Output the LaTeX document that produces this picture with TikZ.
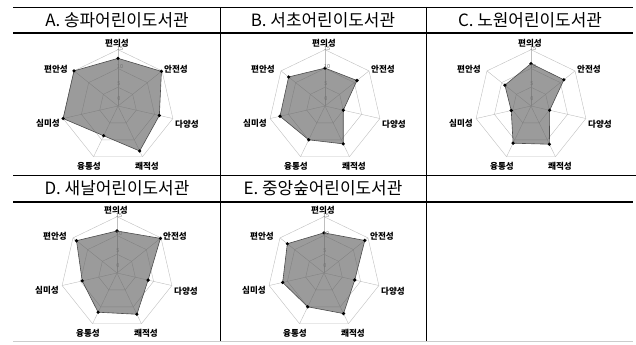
\documentclass[tikz,border=0pt]{standalone}
\usepackage{fontspec}
\setmainfont{Noto Sans CJK KR}
\usetikzlibrary{calc}
\tikzstyle{grid} = [draw=black!25, line width=0.4bp]
\tikzstyle{area} = [draw=black!70, line width=0.6bp, fill=black!65, fill opacity=0.6]
\tikzstyle{axislabel} = [font=\bfseries\fontsize{8.6}{9}\selectfont, inner sep=0pt]
\tikzstyle{ticklabel} = [font=\fontsize{5.5}{6}\selectfont, text=black!55, inner sep=0pt]
\tikzstyle{title} = [font=\fontsize{17}{19}\selectfont, inner sep=0pt]
\tikzstyle{rule} = [draw=black, line width=0.8bp]
\tikzstyle{thickrule} = [draw=black, line width=2bp]
\def\ru{3.7533}
% #1 centre, #2 name, #3-#9 values
\newcommand{\radarchart}[9]{%
	\begin{scope}[shift={#1}]
		% set up grid
		\foreach \r in {18.77,37.53,56.3} {
			\draw [grid] (90:\r) -- (90-360/7:\r) -- (90-2*360/7:\r) -- (90-3*360/7:\r)
				-- (90-4*360/7:\r) -- (90-5*360/7:\r) -- (90-6*360/7:\r) -- cycle;
		}
		\foreach \k in {0,...,6} \draw [grid] (0,0) -- (90-\k*360/7:56.3);
		% set up data
		\draw [area] (90:{#3*\ru}) -- (90-360/7:{#4*\ru}) -- (90-2*360/7:{#5*\ru})
			-- (90-3*360/7:{#6*\ru}) -- (90-4*360/7:{#7*\ru}) -- (90-5*360/7:{#8*\ru})
			-- (90-6*360/7:{#9*\ru}) -- cycle;
		\foreach \v [count=\k from 0] in {#3,#4,#5,#6,#7,#8,#9}
			\fill (90-\k*360/7:{\v*\ru}) circle (1.8);
		% set up scale
		\node (#2-15) [ticklabel] at (2,57) {15};
		\node (#2-10) [ticklabel] at (2,39) {10};
		\node (#2-5) [ticklabel] at (1,22) {5};
		\node (#2-0) [ticklabel] at (1,7) {0};
		% set up axis labels
		\node (#2-a) [axislabel] at (-1,63) {편의성};
		\node (#2-b) [axislabel] at (58,37) {안전성};
		\node (#2-c) [axislabel] at (69,-18) {다양성};
		\node (#2-d) [axislabel] at (29,-60) {쾌적성};
		\node (#2-e) [axislabel] at (-29,-60) {융통성};
		\node (#2-f) [axislabel] at (-70,-17) {심미성};
		\node (#2-g) [axislabel] at (-62,37) {편안성};
	\end{scope}}

\begin{document}
\begin{tikzpicture}[x=1bp, y=1bp]
	\useasboundingbox (0,0) rectangle (636,344);

	% set up table
	\draw [rule] (13,337) -- (633,337);
	\draw [thickrule] (13,311) -- (633,311);
	\draw [rule] (13,169) -- (636,169);
	\draw [thickrule] (13,142) -- (633,142);
	\draw [draw=black!20, line width=0.8bp] (13,3) -- (633,3);
	\draw [rule] (220,337) -- (220,3);
	\draw [rule] (426,337) -- (426,3);

	% set up titles
	\node (A) [title] at (117,324) {A.\ 송파어린이도서관};
	\node (B) [title] at (323,324) {B.\ 서초어린이도서관};
	\node (C) [title] at (530,324) {C.\ 노원어린이도서관};
	\node (D) [title] at (117,156) {D.\ 새날어린이도서관};
	\node (E) [title] at (323,156) {E.\ 중앙숲어린이도서관};

	% set up charts
	\radarchart{(118,238)}{A}{12.7}{14.8}{11.3}{13.3}{8.8}{15}{15}
	\radarchart{(325,238)}{B}{10.1}{10.9}{5.0}{11.2}{10.0}{12.3}{12.4}
	\radarchart{(531,238)}{C}{11.3}{11.2}{5.1}{11.3}{11.0}{5.4}{8.9}
	\radarchart{(117,71)}{D}{11.2}{14.8}{8.5}{12.2}{11.6}{9.5}{13.8}
	\radarchart{(324,71)}{E}{10.7}{13.9}{8.4}{12.0}{10.0}{11.3}{12.5}

\end{tikzpicture}
\end{document}
